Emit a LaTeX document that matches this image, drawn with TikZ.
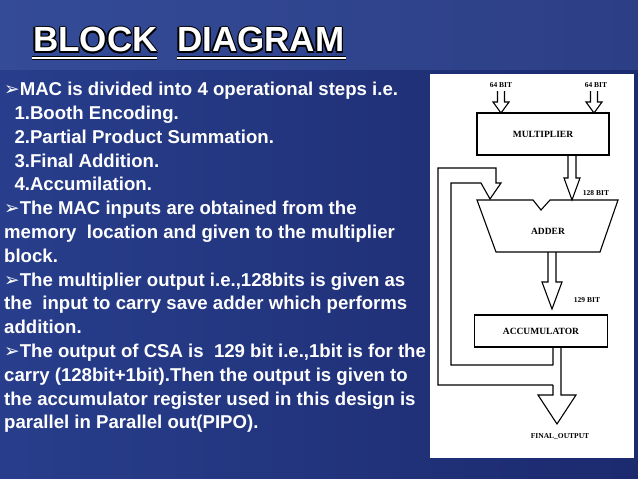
\documentclass[tikz,border=0pt]{standalone}
\usepackage{fontspec}
\setmainfont{Liberation Sans}
\newfontfamily\serifbold{Liberation Serif}
\newfontfamily\symfont{DejaVu Sans}
\usetikzlibrary{positioning}
\definecolor{bgleft}{RGB}{40,62,140}
\definecolor{bgright}{RGB}{28,42,110}
\definecolor{bgtop}{RGB}{70,95,170}

% hollow (outlined) arrow: x, shaft top, wing y, tip y, half shaft, half wing
\newcommand{\fatarrow}[6]{%
  \draw[wire] (#1-#5,#2) -- (#1-#5,#3) -- (#1-#6,#3) -- (#1,#4) -- (#1+#6,#3) -- (#1+#5,#3) -- (#1+#5,#2);}

\begin{document}
\begin{tikzpicture}[x=1pt, y=-1pt,
    wire/.style={draw=black, line width=1.1pt, line join=miter},
    blk/.style={rectangle, draw=black, line width=1.1pt, font=\serifbold\bfseries\fontsize{9.5}{10}\selectfont},
    bitlabel/.style={font=\serifbold\bfseries\fontsize{7.5}{8}\selectfont, inner sep=0pt},
    title/.style={font=\bfseries\fontsize{35}{35}\selectfont, inner sep=0pt, anchor=base west}]

    \useasboundingbox (0,0) rectangle (638,479);
    \shade[left color=bgleft, right color=bgright] (0,0) rectangle (638,479);
    \fill[bgtop, opacity=0.4] (0,0) rectangle (638,70);

    % title
    \foreach \dx/\dy in {-1.3/0,1.3/0,0/-1.3,0/1.3,-1/-1,1/1,-1/1,1/-1}
        \node[title, black] at (33+\dx,52+\dy) {BLOCK\ \ DIAGRAM};
    \node[title, white] (ttl) at (33,52) {BLOCK\ \ DIAGRAM};
    \draw[black, line width=4pt] (32,58) -- (157,58) (177,58) -- (346,58);
    \draw[white, line width=2pt] (32,58) -- (157,58) (177,58) -- (346,58);

    % text
    \node[anchor=north west, inner sep=0pt, text=white, align=left,
          font=\bfseries\fontsize{18.6}{23.8}\selectfont] (txt) at (4,82) {%
      {\symfont ➢}MAC is divided into 4 operational steps i.e.\\
      \ \ 1.Booth Encoding.\\
      \ \ 2.Partial Product Summation.\\
      \ \ 3.Final Addition.\\
      \ \ 4.Accumilation.\\
      {\symfont ➢}The MAC inputs are obtained from the\\
      memory \ location and given to the multiplier\\
      block.\\
      {\symfont ➢}The multiplier output i.e.,128bits is given as\\
      the \ input to carry save adder which performs\\
      addition.\\
      {\symfont ➢}The output of CSA is \ 129 bit i.e.,1bit is for the\\
      carry (128bit+1bit).Then the output is given to\\
      the accumulator register used in this design is\\
      parallel in Parallel out(PIPO).};

    % diagram panel
    \fill[white] (430,74) rectangle (634,458);

    \node[blk, minimum width=132pt, minimum height=42pt] (mult) at (543,134) {MULTIPLIER};
    \node[blk, minimum width=133pt, minimum height=32pt] (acc) at (541,331) {ACCUMULATOR};
    \draw[wire] (477,200) -- (533,200) -- (541,210) -- (550,200) -- (618,200)
        -- (600,252) -- (496,252) -- cycle;
    \node[font=\serifbold\bfseries\fontsize{9.5}{10}\selectfont] (adder) at (548,231) {ADDER};

    \node[bitlabel] (inA) at (501,85) {64 BIT};
    \node[bitlabel] (inB) at (596,85) {64 BIT};
    \node[bitlabel] (b128) at (596,193) {128 BIT};
    \node[bitlabel] (b129) at (587,300) {129 BIT};
    \node[bitlabel] (out) at (560,437) {FINAL\_OUTPUT};

    \fatarrow{501}{91}{102}{113}{3.5}{8}
    \fatarrow{594}{91}{102}{113}{3.5}{8}
    \fatarrow{572}{155}{178}{200}{4}{8}
    \fatarrow{552}{252}{282}{309}{4}{10}

    % feedback loop
    \draw[wire] (553,385) -- (438,385) -- (438,168) -- (496,168) -- (496,183)
        -- (501,183) -- (490,199) -- (481,183) -- (451,183) -- (451,365) -- (553,365);
    % output
    \draw[wire] (553,347) -- (553,365) (553,385) -- (553,395) -- (538,395)
        -- (557,424) -- (576,395) -- (561,395) -- (561,347);
\end{tikzpicture}
\end{document}
